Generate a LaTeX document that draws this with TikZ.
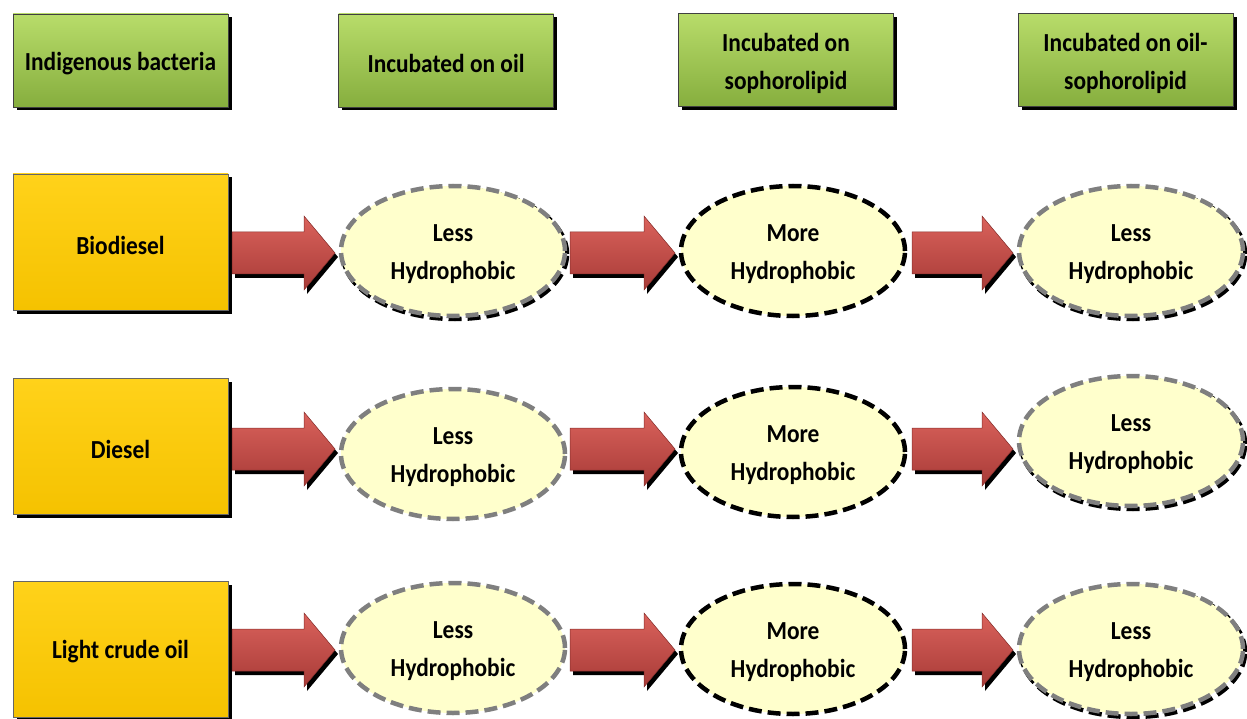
\documentclass[tikz,border=0pt]{standalone}
\usepackage{fontspec}
\setmainfont{Carlito}
\newfontfamily\lblfont[FakeStretch=0.9]{Carlito}
\usetikzlibrary{shapes.geometric,shadows}
\definecolor{gtop}{HTML}{B8DC6A}
\definecolor{gbot}{HTML}{86AE3E}
\definecolor{ytop}{HTML}{FFD21A}
\definecolor{ybot}{HTML}{F5C200}
\definecolor{rtop}{HTML}{DA625C}
\definecolor{rbot}{HTML}{A83B37}
\definecolor{ellfill}{HTML}{FFFFCC}
\definecolor{dgray}{HTML}{7F7F7F}
\newcommand\blockarr[3]{%
  \fill[black] (#1+3,#3-21+4) -- (#2-31+3,#3-21+4) -- (#2-31+3,#3-37+4) -- (#2+3,#3+4) -- (#2-31+3,#3+37+4) -- (#2-31+3,#3+21+4) -- (#1+3,#3+21+4) -- cycle;
  \shade[top color=rtop, bottom color=rbot, draw=rbot!80!black, line width=0.5pt] (#1,#3-21) -- (#2-31,#3-21) -- (#2-31,#3-37) -- (#2,#3) -- (#2-31,#3+37) -- (#2-31,#3+21) -- (#1,#3+21) -- cycle;}
\begin{document}
\begin{tikzpicture}[x=1pt,y=-1pt,
  txtl/.style={font=\lblfont\fontsize{26}{38}\selectfont\bfseries, align=center, text=black, inner sep=0pt, yshift=-3pt},
  t/.style={label={[txtl]center:#1}},
  hdr/.style={draw=black!75, line width=0.6pt, top color=gtop, bottom color=gbot,
     minimum width=215, minimum height=93, inner sep=0pt,
     drop shadow={shadow xshift=3.5pt, shadow yshift=-3.5pt, fill=black, opacity=1}},
  src/.style={draw=black!60, line width=0.6pt, top color=ytop, bottom color=ybot,
     minimum width=215, minimum height=136, inner sep=0pt,
     drop shadow={shadow xshift=3.5pt, shadow yshift=-3.5pt, fill=black, opacity=1}},
  ell/.style={ellipse, fill=ellfill, line width=4.5pt, dash pattern=on 13pt off 6pt,
     minimum width=224, minimum height=130, inner sep=0pt},
  lessA/.style={ell, draw=dgray},
  lessB/.style={ell, draw=dgray,
     general shadow={shadow xshift=2pt, shadow yshift=-3pt, draw=black, line width=4.5pt, fill=none}},
  more/.style={ell, draw=black}]
\useasboundingbox (0,0) rectangle (1247,719);
% headers
\node[hdr, t={Indigenous bacteria}] (h1) at (120.5,60.5) {};
\node[hdr, t={Incubated on oil}] (h2) at (446,60.5) {};
\node[hdr, t={Incubated on\\sophorolipid}] (h3) at (786,60) {};
\node[hdr, t={Incubated on oil-\\sophorolipid}] (h4) at (1125.5,60) {};
% sources
\node[src, t={Biodiesel}] (s1) at (120.5,242) {};
\node[src, t={Diesel}] (s2) at (120.5,446) {};
\node[src, t={Light crude oil}] (s3) at (120.5,649) {};
% arrows
\blockarr{232}{335}{253}
\blockarr{570}{675}{253}
\blockarr{912}{1013}{253}
\blockarr{232}{335}{449}
\blockarr{570}{675}{449}
\blockarr{912}{1013}{449}
\blockarr{232}{335}{650}
\blockarr{570}{675}{650}
\blockarr{912}{1013}{650}
% ellipses
\node[lessB, t={Less\\Hydrophobic}] (e11) at (453,251) {};
\node[more,  t={More\\Hydrophobic}] (e12) at (793,251) {};
\node[lessB, t={Less\\Hydrophobic}] (e13) at (1131,251) {};
\node[lessA, t={Less\\Hydrophobic}] (e21) at (453,454) {};
\node[more,  t={More\\Hydrophobic}] (e22) at (793,452) {};
\node[lessB, t={Less\\Hydrophobic}] (e23) at (1131,441) {};
\node[lessA, t={Less\\Hydrophobic}] (e31) at (453,648) {};
\node[more,  t={More\\Hydrophobic}] (e32) at (793,649) {};
\node[lessB, t={Less\\Hydrophobic}] (e33) at (1131,649) {};
\end{tikzpicture}
\end{document}
